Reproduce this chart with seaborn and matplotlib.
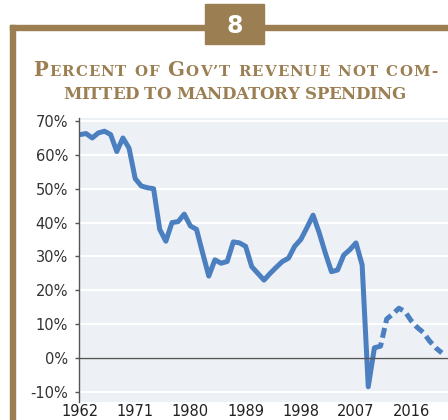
import matplotlib
matplotlib.use("Agg")
import matplotlib.pyplot as plt
import matplotlib.transforms as mtransforms
from matplotlib.patches import Rectangle
import pandas as pd
import seaborn as sns

# ---- Data ----
years_actual = list(range(1962, 2011))
pct_actual = [66, 66.3, 65, 66.5, 67, 66, 61, 65, 62, 53,
              50.8, 50.3, 50, 38, 34.5, 40, 40.3, 42.5, 39, 38,
              31, 24.2, 29, 28, 28.5, 34.3, 34, 33, 27, 25,
              23, 25, 26.8, 28.5, 29.5, 33, 35, 38.5, 42.2, 37,
              31, 25.5, 26, 30.4, 32, 34, 27.5, -8.5, 3]
years_proj = list(range(2010, 2022))
pct_proj = [3, 3.5, 11.5, 13, 14.7, 13.7, 11, 9, 7.5, 5, 3, 1.5]

ytick_vals = [-10, 0, 10, 20, 30, 40, 50, 60, 70]
ytick_labels = [f"{v}%" for v in ytick_vals]
xtick_vals = [1962, 1971, 1980, 1989, 1998, 2007, 2016]
xtick_labels = [str(v) for v in xtick_vals]

TITLE_LINE1 = [("P", True), ("ERCENT", False), (" ", False), ("OF", False),
               (" ", False), ("G", True), ("OV\u2019T", False), (" ", False),
               ("REVENUE", False), (" ", False), ("NOT", False), (" ", False),
               ("COM-", False)]
TITLE_LINE2 = "MITTED TO MANDATORY SPENDING"
BADGE = "8"

GOLD = "#9b7f52"
BLUE = "#4b7fc0"
PANEL = "#edf1f5"

df_actual = pd.DataFrame({"year": years_actual, "pct": pct_actual})
df_proj = pd.DataFrame({"year": years_proj, "pct": pct_proj})

# ---- Plot ----
sns.set_style("white")
plt.rcParams["font.family"] = ["DejaVu Sans"]

W, H = 448, 420
fig = plt.figure(figsize=(W / 100, H / 100), dpi=100)
ax = fig.add_axes([79 / W, (H - 402) / H, (W - 79) / W, (402 - 118) / H])
ax.set_facecolor(PANEL)

sns.lineplot(data=df_actual, x="year", y="pct", ax=ax, color=BLUE,
             linewidth=3.6, solid_capstyle="round", solid_joinstyle="round")
sns.lineplot(data=df_proj, x="year", y="pct", ax=ax, color=BLUE,
             linewidth=3.6, dashes=[(2.0, 1.0)], style=[0] * len(df_proj),
             legend=False)

ax.set_xlim(1961.84, 2022.0)
ax.set_ylim(-13.0, 70.9)
ax.set_xlabel("")
ax.set_ylabel("")

ax.set_yticks(ytick_vals)
ax.set_yticklabels(ytick_labels)
ax.set_xticks(xtick_vals[1:])
ax.tick_params(axis="x", length=4, width=1, color="#555555", direction="out",
               labelbottom=False)
ax.tick_params(axis="y", length=3, width=1, color="#555555", direction="out",
               labelsize=10.5, labelcolor="#333333", pad=5, left=True)
ax.yaxis.grid(True, color="white", linewidth=1.5)
ax.set_axisbelow(True)

for side in ["top", "right"]:
    ax.spines[side].set_visible(False)
ax.spines["left"].set_color("#555555")
ax.spines["left"].set_linewidth(1)
ax.spines["bottom"].set_position(("data", 0))
ax.spines["bottom"].set_color("#555555")
ax.spines["bottom"].set_linewidth(1)

secax = ax.secondary_xaxis("bottom")
secax.set_xticks(xtick_vals)
secax.set_xticklabels(xtick_labels)
secax.spines["bottom"].set_visible(False)
secax.tick_params(length=0, pad=1.5, labelsize=10.5, labelcolor="#222222")

# ---- Frame, badge and title ----
px = mtransforms.IdentityTransform()
fig.patches.append(Rectangle((10, H - 30), W - 10, 5, transform=px,
                             color=GOLD, zorder=0))
fig.patches.append(Rectangle((10, 0), 5, H - 25, transform=px,
                             color=GOLD, zorder=0))
fig.patches.append(Rectangle((205, H - 44), 59, 40, transform=px,
                             color=GOLD, zorder=1))
fig.text(235, H - 26, BADGE, transform=px, ha="center", va="center",
         color="white", fontsize=17, fontweight="bold", family="DejaVu Sans")


def small_caps(pieces, x0, x1, baseline, big, small):
    # letters are placed one by one and spread to fill x0..x1 (wide caps face)
    r = fig.canvas.get_renderer()
    items = []
    for s, is_big in pieces:
        if s == " ":
            items.append((None, small * 100 / 72 * 0.4))
            continue
        for ch in s:
            t = fig.text(0, 0, ch, transform=px,
                         fontsize=big if is_big else small, color=GOLD,
                         family="DejaVu Serif", fontweight="bold",
                         va="baseline", ha="left")
            items.append((t, t.get_window_extent(r).width))
    natural = sum(w for _, w in items)
    extra = (x1 - x0 - natural) / (len(items) - 1)
    x = x0
    for t, w in items:
        if t is not None:
            t.set_position((x, baseline))
        x += w + extra


line2 = []
for i, word in enumerate(TITLE_LINE2.split(" ")):
    if i:
        line2.append((" ", False))
    line2.append((word, False))

small_caps(TITLE_LINE1, 33, 437, H - 75.7, 14.2, 10.8)
small_caps(line2, 63, 405, H - 99, 12.0, 12.0)

fig.savefig("out.png", dpi=100)
plt.close(fig)
